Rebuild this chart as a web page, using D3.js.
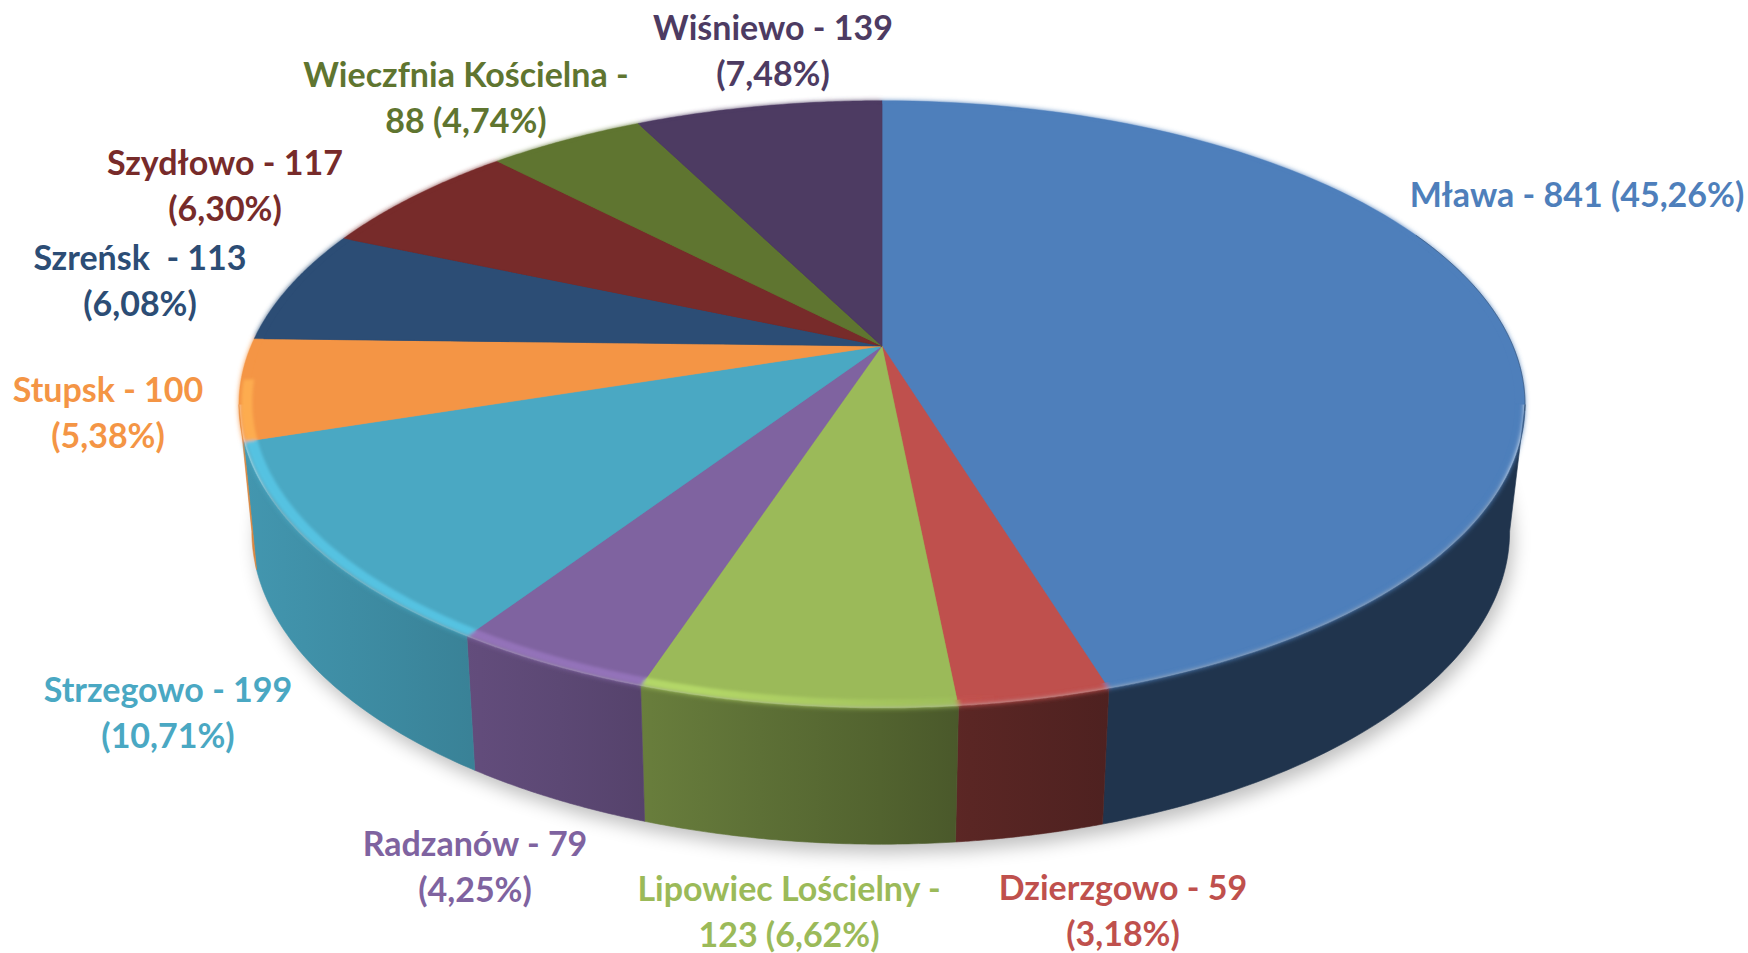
<!DOCTYPE html>
<html><head><meta charset="utf-8">
<style>html,body{margin:0;padding:0;background:#fff;overflow:hidden}svg{display:block}
text{font-family:Lato,sans-serif;font-weight:700;font-size:34px;text-anchor:middle;white-space:pre}</style>
<script src="https://cdn.jsdelivr.net/npm/d3@7/dist/d3.min.js"></script></head><body>
<svg id="c" width="1748" height="953"></svg>
<script>
const names=["Mława","Dzierzgowo","Lipowiec Lościelny","Radzanów","Strzegowo","Stupsk","Szreńsk ","Szydłowo","Wieczfnia Kościelna","Wiśniewo"];
const values=[841,59,123,79,199,100,113,117,88,139];
const colors=["#4E7FBB","#BF504D","#9BBA59","#7F63A0","#4AA8C3","#F49545","#2C4D75","#772B2A","#5F7530","#4D3B62"];
const lineBreaks=["none","pct","value","pct","pct","pct","pct","pct","value","pct"];
const labelCenters=[[1577,195],[1123,888],[789,889],[475,844],[168,690],[108,390],[140,258],[225,163],[466,75],[773,28]];

const cx=882,cy=346,k=0.1927,A=631,B=292.5;
const lineGap=46;
const svg=d3.select("#c");
const defs=svg.append("defs");
const mkBlur=(id,s)=>defs.append("filter").attr("id",id).attr("x","-10%").attr("y","-10%").attr("width","120%").attr("height","120%")
  .append("feGaussianBlur").attr("stdDeviation",s);
mkBlur("b2",2.6);mkBlur("b1",1.8);mkBlur("s",9);

const pie=d3.pie().sort(null).value(d=>d);
const arcs=pie(values);
const total=d3.sum(values);
const fmt=d3.format(".2f");

// perspective disc: unit coordinates -> screen via scales
const sxTop=d3.scaleLinear([-1,1],[cx-A,cx+A]);
const syTop=d3.scaleLinear([-1,1],[cy-B,cy+B]);
const sxBot=d3.scaleLinear([-1,1],[cx-A*0.98,cx+A*0.976]);
const syBot=d3.scaleLinear([-1,1],[471-B*1.03,471+B*1.03]);
function unit(t,r=1){const x=r*Math.sin(t),y=-r*Math.cos(t),w=1-k*y;return [x/w,y/w];}
const topPt=(t,r)=>{const u=unit(t,r);return [sxTop(u[0]),syTop(u[1])];};
const botPt=t=>{const u=unit(t);return [sxBot(u[0]),syBot(u[1])];};
const pathLine=d3.line();
const samples=(a,b)=>d3.range(0,61).map(i=>a+(b-a)*i/60);
const tTan=Math.acos(-k);
const vis0=tTan,vis1=2*Math.PI-tTan;
const TAU=2*Math.PI;

// side brightness along x
const bright=d3.scaleLinear([237,480,650,880,970,1110,1530],[.9,.77,.67,.53,.47,.41,.41]);
const stops=[237,350,480,560,650,760,880,970,1110,1530];
arcs.forEach((d,i)=>{
  const g=defs.append("linearGradient").attr("id","side"+i).attr("gradientUnits","userSpaceOnUse").attr("x1",237).attr("x2",1530).attr("y1",0).attr("y2",0);
  stops.forEach(x=>{const c=d3.rgb(colors[i]),b=bright(x);
    g.append("stop").attr("offset",(x-237)/(1530-237)).attr("stop-color",d3.rgb(c.r*b,c.g*b,c.b*b).formatHex());});
  const h=defs.append("linearGradient").attr("id","hi"+i).attr("gradientUnits","userSpaceOnUse").attr("x1",237).attr("x2",1530).attr("y1",0).attr("y2",0);
  const hc=d3.rgb(colors[i]).brighter(0.5).formatHex();
  [[237,.8],[700,.8],[900,.25],[1000,0],[1530,0]].forEach(s=>h.append("stop").attr("offset",(s[0]-237)/(1530-237)).attr("stop-color",hc).attr("stop-opacity",s[1]));
});

// shadow
svg.append("path").attr("d",pathLine(samples(0,TAU).map(botPt))+"Z").attr("transform","translate(4,9)")
  .attr("fill","#000").attr("opacity",.25).attr("filter","url(#s)");

// sides, clipped to the visible part of the wall
arcs.forEach((d,i)=>{
  const a=Math.max(d.startAngle,vis0),b=Math.min(d.endAngle,vis1);
  if(b<=a) return;
  const ts=samples(a,b);
  svg.append("path").attr("d",pathLine(ts.map(t=>topPt(t)).concat(ts.slice().reverse().map(botPt)))+"Z")
    .attr("fill",`url(#side${i})`).attr("stroke",`url(#side${i})`).attr("stroke-width",.6);
});

const wedge=(a,b,r)=>pathLine([topPt(0,0)].concat(samples(a,b).map(t=>topPt(t,r))))+"Z";
// soft edge towards the wall
const soft=svg.append("g").attr("filter","url(#b2)");
arcs.forEach((d,i)=>soft.append("path").attr("d",wedge(d.startAngle,d.endAngle,1)).attr("fill",colors[i]));
// crisp face: full radius on the back half so that the far rim stays sharp
arcs.forEach((d,i)=>{
  [[0,vis0],[vis1,TAU]].forEach(([p,q])=>{
    const a=Math.max(d.startAngle,p),b=Math.min(d.endAngle,q);
    if(b>a) svg.append("path").attr("d",wedge(a,b,1)).attr("fill",colors[i]).attr("stroke",colors[i]).attr("stroke-width",.4);
  });
  svg.append("path").attr("d",wedge(d.startAngle,d.endAngle,.985)).attr("fill",colors[i]).attr("stroke",colors[i]).attr("stroke-width",.4);
});
// thin dark line on the far right rim
svg.append("path").attr("d",pathLine(samples(1.15,vis0+.02).map(t=>topPt(t,1)))).attr("fill","none")
  .attr("stroke","#1F3550").attr("stroke-width",1).attr("opacity",.4);
// rim highlight
const hiG=svg.append("g").attr("filter","url(#b1)");
arcs.forEach((d,i)=>{
  const a=Math.max(d.startAngle,vis0),b=Math.min(d.endAngle,vis1+0.08);
  if(b<=a) return;
  const ts=samples(a,b);
  hiG.append("path").attr("d",pathLine(ts.map(t=>topPt(t,.98)).concat(ts.slice().reverse().map(t=>topPt(t,.996))))+"Z")
    .attr("fill",`url(#hi${i})`);
});

// labels
arcs.forEach((d,i)=>{
  const pct=fmt(d.value/total*100).replace(".",",");
  const nm=names[i]+" - ";
  const full=lineBreaks[i]==="none"?[nm+d.value+" ("+pct+"%)"]:
    lineBreaks[i]==="value"?[nm.trimEnd(),d.value+" ("+pct+"%)"]:[nm+d.value,"("+pct+"%)"];
  const [lx,ly]=labelCenters[i];
  full.forEach((t,j)=>svg.append("text").attr("x",lx).attr("y",ly+j*lineGap).attr("dy","0.35em").attr("fill",colors[i]).text(t));
});
</script></body></html>
